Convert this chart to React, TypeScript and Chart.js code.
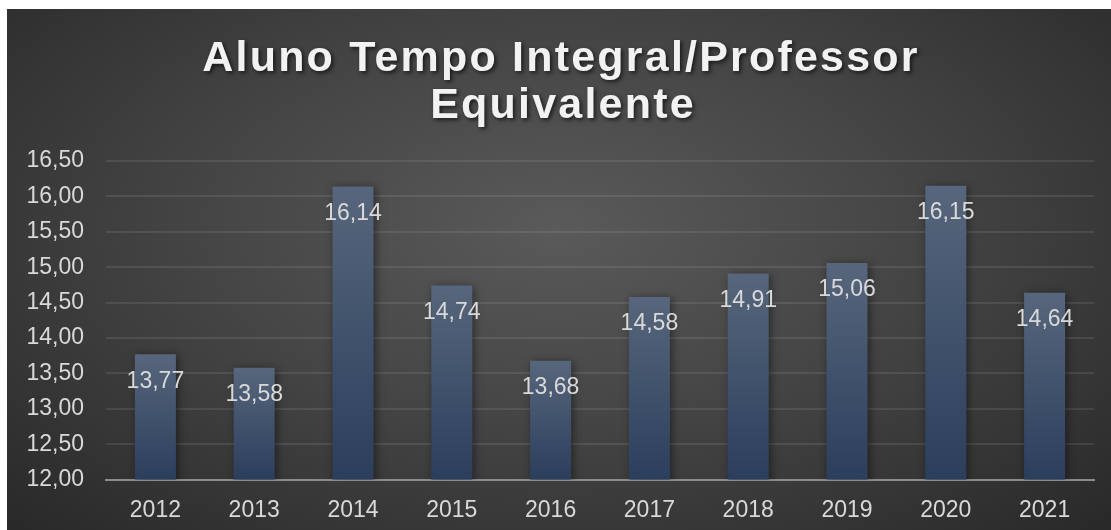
import React, { useEffect, useRef } from "react";
import { Chart, registerables } from "chart.js";

Chart.register(...registerables);

const years = ["2012", "2013", "2014", "2015", "2016", "2017", "2018", "2019", "2020", "2021"];
const values = [13.77, 13.58, 16.14, 14.74, 13.68, 14.58, 14.91, 15.06, 16.15, 14.64];
const titleLines = ["Aluno Tempo Integral/Professor", "Equivalente"];
const yMin = 12;
const yMax = 16.5;
const yStep = 0.5;

const W = 1104;
const H = 521;
const FONT = "'Liberation Sans', Arial, sans-serif";

const fmt = (v: number) => v.toFixed(2).replace(".", ",");

export default function App() {
  const ref = useRef<HTMLCanvasElement | null>(null);

  useEffect(() => {
    if (!ref.current) return;

    const titlePlugin = {
      id: "customTitle",
      afterDraw(chart: any) {
        const ctx = chart.ctx;
        ctx.save();
        ctx.font = `bold 43px ${FONT}`;
        (ctx as any).letterSpacing = "2.2px";
        ctx.textAlign = "center";
        ctx.textBaseline = "alphabetic";
        ctx.fillStyle = "#f2f2f2";
        ctx.shadowColor = "rgba(0,0,0,0.65)";
        ctx.shadowBlur = 4;
        ctx.shadowOffsetX = 2;
        ctx.shadowOffsetY = 2;
        ctx.fillText(titleLines[0], W / 2 + 2, 62);
        ctx.fillText(titleLines[1], W / 2 + 4, 109);
        ctx.restore();
      },
    };

    const barPlugin = {
      id: "barDeco",
      beforeDatasetsDraw(chart: any) {
        const ctx = chart.ctx;
        ctx.save();
        ctx.shadowColor = "rgba(0,0,0,0.45)";
        ctx.shadowBlur = 8;
        ctx.shadowOffsetX = 2;
        ctx.shadowOffsetY = 1;
      },
      afterDatasetsDraw(chart: any) {
        const ctx = chart.ctx;
        ctx.restore();
        ctx.save();
        ctx.font = `23px ${FONT}`;
        ctx.fillStyle = "#d9d9d9";
        ctx.textAlign = "center";
        ctx.textBaseline = "middle";
        const meta = chart.getDatasetMeta(0);
        meta.data.forEach((el: any, i: number) => {
          ctx.fillText(fmt(values[i]), el.x, el.y + 27);
        });
        ctx.restore();
      },
    };

    const chart = new Chart(ref.current, {
      type: "bar",
      data: {
        labels: years,
        datasets: [
          {
            data: values,
            backgroundColor: (c: any) => {
              const chartObj = c.chart;
              const y = chartObj.scales && chartObj.scales.y;
              if (!y || c.dataIndex === undefined) return "#3d4f6a";
              const top = y.getPixelForValue(values[c.dataIndex]);
              const bottom = y.getPixelForValue(yMin);
              if (!isFinite(top) || !isFinite(bottom) || top === bottom) return "#3d4f6a";
              const g = chartObj.ctx.createLinearGradient(0, top, 0, bottom);
              g.addColorStop(0, "#57667c");
              g.addColorStop(1, "#2b3e5c");
              return g;
            },
            borderWidth: 0,
            barPercentage: 0.415,
            categoryPercentage: 1,
          },
        ],
      },
      options: {
        responsive: false,
        animation: false,
        layout: { padding: { top: 152, right: 17, left: 0, bottom: 0 } },
        plugins: {
          legend: { display: false },
          title: { display: false },
          tooltip: { enabled: false },
        },
        scales: {
          x: {
            grid: { display: false, drawTicks: false },
            border: { display: true, color: "#8c8c8c", width: 2 },
            ticks: {
              color: "#d9d9d9",
              font: { family: FONT, size: 23 },
              padding: 17,
            },
            afterFit: (s: any) => {
              s.height = 50.4;
            },
          },
          y: {
            min: yMin,
            max: yMax,
            grid: {
              color: "rgba(255,255,255,0.09)",
              lineWidth: 2,
              drawTicks: false,
            },
            border: { display: false },
            ticks: {
              stepSize: yStep,
              color: "#d9d9d9",
              font: { family: FONT, size: 23 },
              padding: 22,
              callback: (v: any) => fmt(Number(v)),
            },
            afterFit: (s: any) => {
              s.width = 99;
            },
          },
        },
      },
      plugins: [barPlugin, titlePlugin],
    } as any);

    return () => chart.destroy();
  }, []);

  return (
    <div
      style={{
        position: "absolute",
        left: 7,
        top: 9,
        width: W,
        height: H,
        background: "radial-gradient(ellipse 75% 85% at 50% 42%, #5a5a5a 0%, #444 45%, #262626 100%)",
      }}
    >
      <canvas ref={ref} width={W} height={H} style={{ display: "block" }} />
    </div>
  );
}
